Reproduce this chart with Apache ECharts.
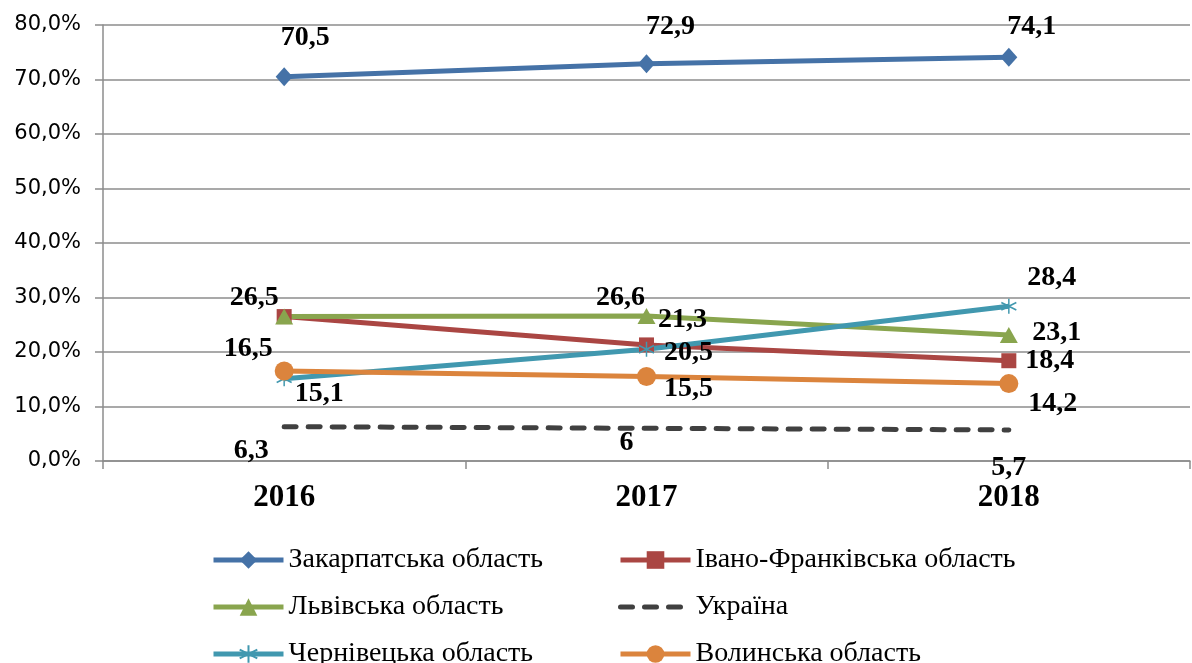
<!DOCTYPE html>
<html>
<head>
<meta charset="utf-8">
<script src="https://cdn.jsdelivr.net/npm/echarts@6/dist/echarts.min.js"></script>
<style>
  html, body { margin: 0; padding: 0; background: #fff; }
  #chart { width: 1192px; height: 663px; }
</style>
</head>
<body>
<div id="chart"></div>
<script>
var years = ['2016', '2017', '2018'];
var yTicks = [0, 10, 20, 30, 40, 50, 60, 70, 80];

var zakarpattia = [70.5, 72.9, 74.1];
var ivanoFrankivsk = [26.5, 21.3, 18.4];
var lviv = [26.5, 26.6, 23.1];
var ukraine = [6.3, 6, 5.7];
var chernivtsi = [15.1, 20.5, 28.4];
var volyn = [16.5, 15.5, 14.2];

var names = ['Закарпатська область', 'Івано-Франківська область', 'Львівська область',
             'Україна', 'Чернівецька область', 'Волинська область'];

// where each value label sits relative to its point (px)
var labelShift = [
    [[21, -39], [24, -37], [23, -30]],
    [[-30, -19], [36, -25], [41, 0]],
    [null, [-26, -18], [48, -2]],
    [[-33, 24], [-20, 14], [0, 38]],
    [[35, 15], [42, 3], [43, -28]],
    [[-36, -22], [42, 12], [44, 20]]
];

var serif = '"Liberation Serif", "Times New Roman", serif';
var starPath = 'path://M5,0L5,10M0.7,2.5L9.3,7.5M9.3,2.5L0.7,7.5';

function points(values, idx) {
    return values.map(function (v, i) {
        var off = labelShift[idx][i];
        return {
            value: v,
            label: off ? { show: true, offset: off } : { show: false }
        };
    });
}

function fmt(p) {
    return String(p.value).replace('.', ',');
}

var baseLabel = {
    show: true,
    position: 'inside',
    align: 'center',
    verticalAlign: 'middle',
    formatter: fmt,
    color: '#000',
    fontFamily: serif,
    fontWeight: 'bold',
    fontSize: 28
};

var legendBase = {
    orient: 'vertical',
    top: 541,
    height: 140,
    itemWidth: 70, itemHeight: 22, itemGap: 19,
    lineStyle: { width: 5 },
    textStyle: { fontFamily: serif, fontSize: 28, color: '#000', lineHeight: 26 }
};

var dom = document.getElementById('chart');
var myChart = echarts.init(dom);

var option = {
    animation: false,
    grid: { left: 103, right: 2, top: 25, bottom: 202 },
    legend: [
        echarts.util.merge({
            left: 206,
            data: [names[0], names[2], names[4]]
        }, legendBase),
        echarts.util.merge({
            left: 613,
            data: [names[1], { name: names[3], itemStyle: { opacity: 0 } }, names[5]]
        }, legendBase)
    ],
    xAxis: {
        type: 'category',
        data: years,
        boundaryGap: true,
        axisLine: { lineStyle: { color: '#8c8c8c', width: 1.5 } },
        axisTick: { show: true, length: 8, lineStyle: { color: '#8c8c8c', width: 1.5 } },
        axisLabel: { margin: 21, color: '#000', fontFamily: serif, fontWeight: 'bold', fontSize: 31 }
    },
    yAxis: {
        type: 'value',
        min: yTicks[0],
        max: yTicks[yTicks.length - 1],
        interval: 10,
        axisLine: { show: true, lineStyle: { color: '#8c8c8c', width: 1.5 } },
        axisTick: { show: true, length: 8, lineStyle: { color: '#8c8c8c', width: 1.5 } },
        splitLine: { lineStyle: { color: '#8c8c8c', width: 1.5 } },
        axisLabel: {
            margin: 22,
            color: '#000',
            fontFamily: '"DejaVu Sans", sans-serif',
            fontSize: 21,
            formatter: function (v) { return v.toFixed(1).replace('.', ',') + '%'; }
        }
    },
    series: [
        {
            name: names[0], type: 'line', data: points(zakarpattia, 0),
            symbol: 'diamond', symbolSize: [17, 19],
            itemStyle: { color: '#4572A7' },
            lineStyle: { color: '#4572A7', width: 5 },
            label: baseLabel
        },
        {
            name: names[1], type: 'line', data: points(ivanoFrankivsk, 1),
            symbol: 'rect', symbolSize: 15,
            itemStyle: { color: '#AA4643' },
            lineStyle: { color: '#AA4643', width: 5 },
            label: baseLabel
        },
        {
            name: names[2], type: 'line', data: points(lviv, 2),
            symbol: 'triangle', symbolSize: [18, 16],
            itemStyle: { color: '#89A54E' },
            lineStyle: { color: '#89A54E', width: 5 },
            label: baseLabel
        },
        {
            name: names[3], type: 'line', data: points(ukraine, 3),
            symbol: 'circle', symbolSize: 0.1,
            itemStyle: { color: '#404040' },
            lineStyle: { color: '#404040', width: 5, type: [12, 12], cap: 'round' },
            label: baseLabel
        },
        {
            name: names[4], type: 'line', data: points(chernivtsi, 4),
            symbol: starPath, symbolSize: 15,
            itemStyle: { color: '#4198AF', borderColor: '#4198AF', borderWidth: 1.5 },
            lineStyle: { color: '#4198AF', width: 5 },
            label: baseLabel
        },
        {
            name: names[5], type: 'line', data: points(volyn, 5),
            symbol: 'circle', symbolSize: 19,
            itemStyle: { color: '#DB843D' },
            lineStyle: { color: '#DB843D', width: 5 },
            label: baseLabel
        }
    ]
};

if (option && typeof option === 'object') {
    myChart.setOption(option, true);
}
</script>
</body>
</html>
